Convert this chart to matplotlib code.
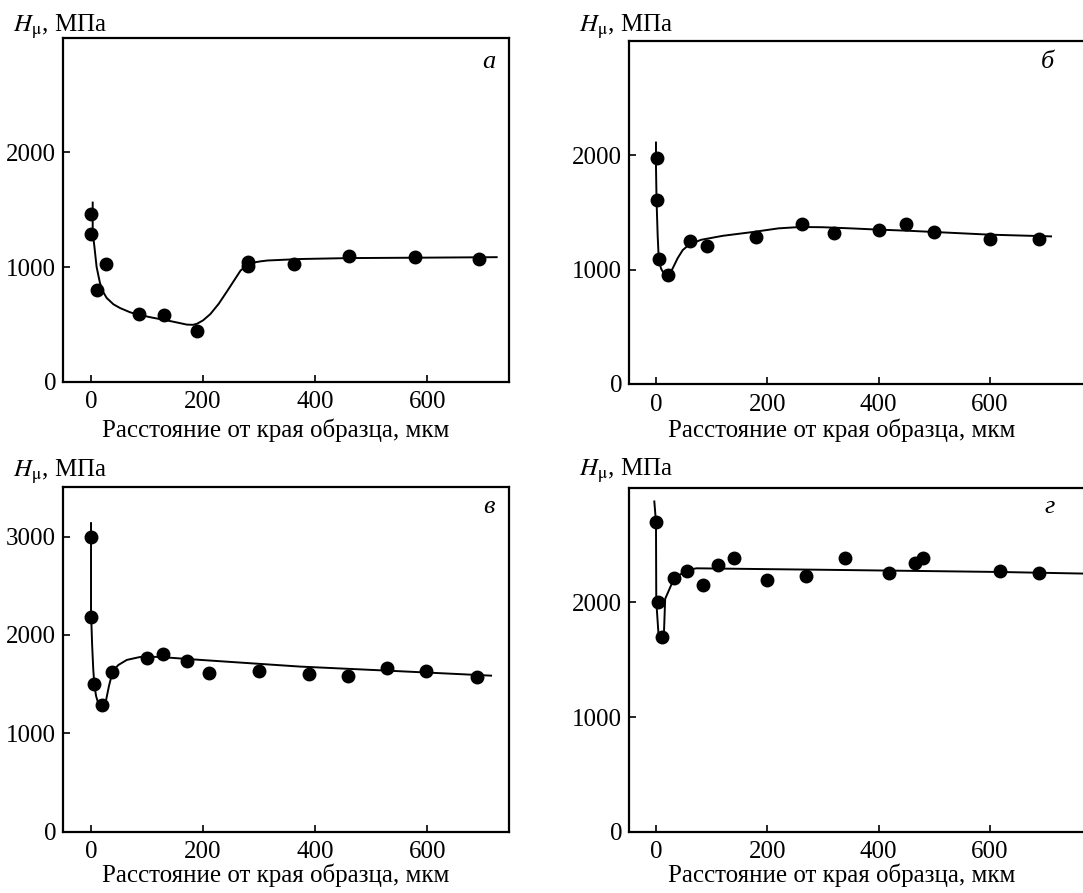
import matplotlib
matplotlib.use("Agg")
import matplotlib.pyplot as plt

plt.rcParams['font.family'] = ['Liberation Serif', 'DejaVu Serif']
plt.rcParams['mathtext.fontset'] = 'stix'

# ---- data: panel а ----
a_x = [0, 0, 10, 27, 85, 130, 190, 280, 280, 362, 461, 578, 693]
a_y = [1460, 1290, 800, 1030, 587, 578, 438, 1045, 1010, 1028, 1100, 1089, 1072]
a_cx = [3, 3, 6, 10, 16, 22, 28, 40, 52, 70, 85, 110, 130, 150, 171, 182, 189, 200,
        213, 228, 243, 255, 267, 280, 291, 303, 315, 374, 461, 600, 724]
a_cy = [1562, 1300, 1180, 1000, 860, 780, 730, 675, 642, 605, 584, 558, 540, 520, 498,
        496, 505, 535, 590, 680, 790, 880, 970, 1020, 1040, 1050, 1057, 1070, 1078, 1082, 1086]

# ---- data: panel б ----
b_x = [1, 1, 5, 21, 62, 91, 180, 262, 320, 400, 450, 500, 600, 689]
b_y = [1977, 1605, 1096, 956, 1250, 1206, 1288, 1401, 1320, 1346, 1401, 1331, 1267, 1267]
b_cx = [0, 0, 1, 3, 5, 9, 14, 20, 25, 30, 39, 48, 60, 81, 120, 177, 220, 259, 300,
        350, 400, 450, 510, 600, 710]
b_cy = [2110, 1900, 1605, 1300, 1090, 1010, 965, 945, 965, 1010, 1100, 1170, 1220, 1260,
        1295, 1330, 1360, 1372, 1370, 1360, 1349, 1340, 1326, 1305, 1290]

# ---- data: panel в ----
c_x = [0, 0, 6, 19, 37, 100, 129, 171, 210, 299, 389, 458, 528, 598, 689]
c_y = [3000, 2183, 1505, 1292, 1620, 1769, 1803, 1739, 1610, 1631, 1600, 1580, 1661, 1634, 1569]
c_cx = [0, 0, 2, 4, 6, 9, 12, 16, 19, 23, 27, 32, 37, 43, 49, 64, 88, 110, 129, 195,
        373, 528, 714]
c_cy = [3136, 2237, 1898, 1650, 1492, 1380, 1322, 1285, 1271, 1285, 1340, 1480, 1593,
        1660, 1695, 1746, 1776, 1778, 1773, 1746, 1678, 1637, 1586]

# ---- data: panel г ----
d_x = [0, 4, 10, 32, 56, 84, 111, 140, 199, 269, 339, 419, 465, 480, 618, 688]
d_y = [2703, 2006, 1700, 2215, 2273, 2154, 2326, 2384, 2195, 2233, 2384, 2253, 2343,
       2384, 2276, 2256]
d_cx = [-3, 0, 0.5, 5, 14, 16.5, 33, 59, 73, 339, 618, 780]
d_cy = [2880, 2700, 2010, 1690, 1690, 2030, 2215, 2285, 2297, 2282, 2265, 2250]

panel_letters = ['а', 'б', 'в', 'г']
x_ticks = [0, 200, 400, 600]
y_ticks_3000 = [0, 1000, 2000]
y_ticks_3500 = [0, 1000, 2000, 3000]
xlabel = 'Расстояние от края образца, мкм'
ylabel = '$H_{\\mathrm{\\mu}}$, МПа'

W, H = 1083, 893
fig = plt.figure(figsize=(W / 100, H / 100), dpi=100)


def rect(left, top, right, bottom):
    return [left / W, 1 - bottom / H, (right - left) / W, (bottom - top) / H]


axes_geo = [
    dict(r=rect(63, 37.7, 509, 381.7), xlim=(-50, 746), ylim=(0, 3000), yt=y_ticks_3000,
         data=(a_x, a_y, a_cx, a_cy), ylab=(13, 32), let=(489, 62), xl=(276, 430)),
    dict(r=rect(629, 40.7, 1095, 384), xlim=(-48.5, 789), ylim=(0, 3000), yt=y_ticks_3000,
         data=(b_x, b_y, b_cx, b_cy), ylab=(579, 32), let=(1047, 62), xl=(842, 430)),
    dict(r=rect(63, 487.3, 509, 831.7), xlim=(-50, 746), ylim=(0, 3500), yt=y_ticks_3500,
         data=(c_x, c_y, c_cx, c_cy), ylab=(13, 477), let=(489, 507), xl=(276, 875)),
    dict(r=rect(629, 487.7, 1095, 831.7), xlim=(-48.5, 789), ylim=(0, 3000), yt=y_ticks_3000,
         data=(d_x, d_y, d_cx, d_cy), ylab=(579, 476), let=(1050, 507), xl=(842, 875)),
]

for g, letter in zip(axes_geo, panel_letters):
    ax = fig.add_axes(g['r'])
    px, py, cx, cy = g['data']
    ax.plot(cx, cy, color='black', lw=1.4, solid_joinstyle='round', zorder=2)
    ax.plot(px, py, 'o', color='black', ms=9, zorder=3)
    ax.set_xlim(*g['xlim'])
    ax.set_ylim(*g['ylim'])
    ax.set_xticks(x_ticks)
    ax.set_yticks(g['yt'])
    ax.tick_params(direction='in', length=5, width=1.2, labelsize=18, pad=5)
    ax.tick_params(axis='x', pad=7)
    for s in ax.spines.values():
        s.set_linewidth(1.6)
    fig.text(g['ylab'][0] / W, 1 - g['ylab'][1] / H, ylabel, fontsize=18,
             ha='left', va='baseline')
    fig.text(g['let'][0] / W, 1 - g['let'][1] / H, letter, fontsize=19,
             style='italic', ha='center', va='center')
    fig.text(g['xl'][0] / W, 1 - g['xl'][1] / H, xlabel, fontsize=18,
             ha='center', va='center')

fig.savefig('out.png', dpi=100)
